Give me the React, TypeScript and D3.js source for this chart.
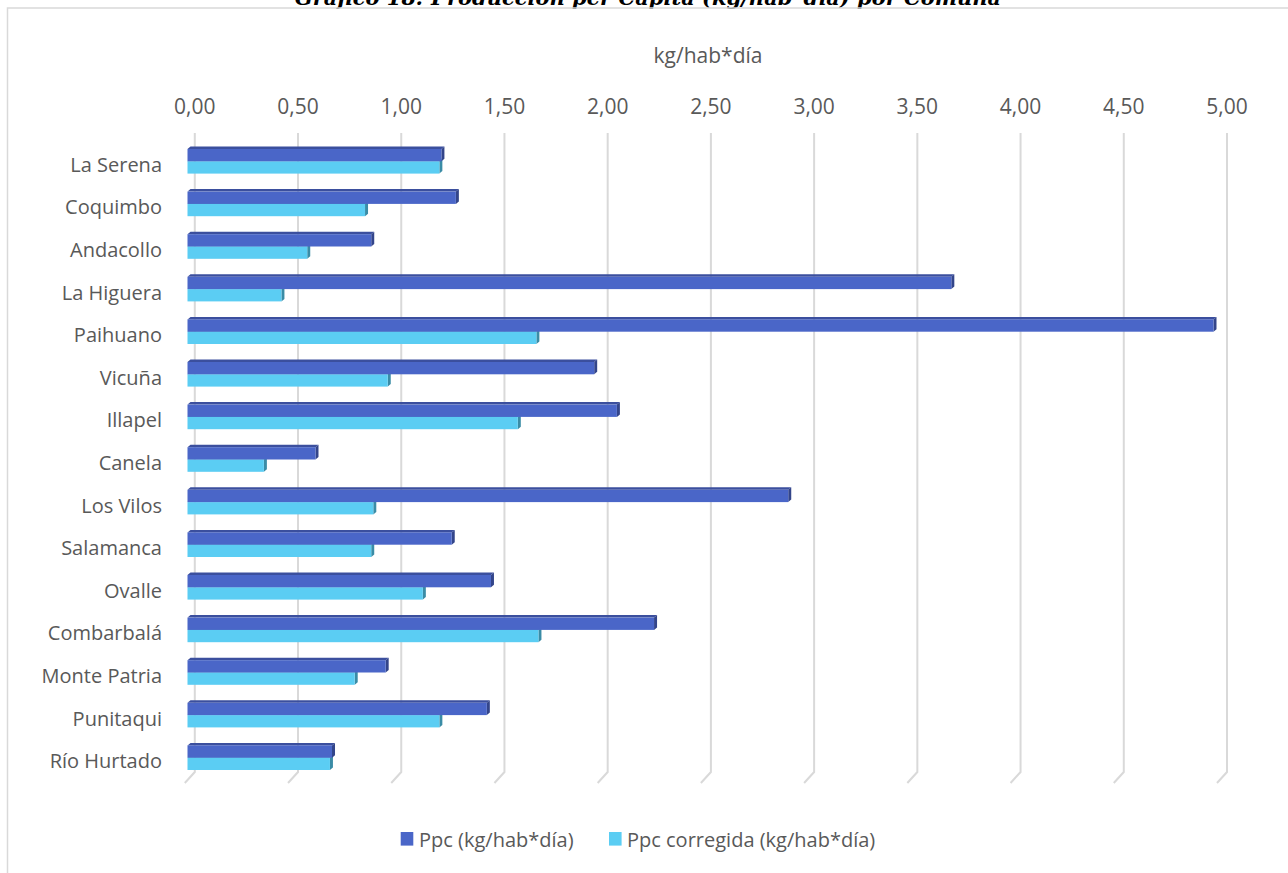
import React from "react";
import * as d3 from "d3";

const categories = [
  "La Serena", "Coquimbo", "Andacollo", "La Higuera", "Paihuano", "Vicuña", "Illapel",
  "Canela", "Los Vilos", "Salamanca", "Ovalle", "Combarbalá", "Monte Patria", "Punitaqui", "Río Hurtado",
];
const ppcValues = [1.23, 1.30, 0.89, 3.70, 4.97, 1.97, 2.08, 0.62, 2.91, 1.28, 1.47, 2.26, 0.96, 1.45, 0.70];
const ppcCorregidaValues = [1.22, 0.86, 0.58, 0.455, 1.69, 0.97, 1.60, 0.37, 0.90, 0.89, 1.14, 1.70, 0.81, 1.22, 0.69];
const tickValues = [0, 0.5, 1, 1.5, 2, 2.5, 3, 3.5, 4, 4.5, 5];
const seriesNames = ["Ppc (kg/hab*día)", "Ppc corregida (kg/hab*día)"];
const axisTitle = "kg/hab*día";
const chartTitle = "Gráfico 18: Producción per Cápita (kg/hab*día) por Comuna";

const W = 1288;
const H = 873;
const FONT = "'Open Sans', sans-serif";
const TXT = "#595959";
const GRID = "#D9D9D9";

const C1 = { front: "#4A66C8", top: "#3B4F9E", side: "#33458A" };
const C2 = { front: "#5BCDF3", top: "#48A9CA", side: "#3A8CA6" };

export default function App() {
  const xBack = d3.scaleLinear().domain([0, 5]).range([194.8, 1227]);
  const FX = -7.3;
  const FY = 7;
  const yBand = d3.scaleBand<string>().domain(categories).range([133, 772]);
  const barH = 12.3;
  const dx = 3, dy = -2.5;
  const fmt = (v: number) => d3.format(".2f")(v).replace(".", ",");

  const bar = (x0: number, x1: number, y0: number, y1: number, c: typeof C1, key: string) => (
    <g key={key}>
      <polygon points={`${x0},${y0} ${x0 + dx},${y0 + dy} ${x1 + dx},${y0 + dy} ${x1},${y0}`} fill={c.top} />
      <polygon points={`${x1},${y0} ${x1 + dx},${y0 + dy} ${x1 + dx},${y1 + dy} ${x1},${y1}`} fill={c.side} />
      <rect x={x0} y={y0} width={Math.max(0, x1 - x0)} height={y1 - y0} fill={c.front} />
    </g>
  );

  return (
    <svg width={W} height={H} style={{ position: "absolute", left: 0, top: 0, background: "#fff" }}>
      <text x={648} y={5} textAnchor="middle" fontFamily="'DejaVu Serif', serif" fontWeight="bold" fontStyle="italic" fontSize={21} fill="#000">
        {chartTitle}
      </text>
      <rect x={7.5} y={8} width={1290} height={880} fill="none" stroke={GRID} strokeWidth={1.5} />
      <text x={708} y={55} textAnchor="middle" dominantBaseline="central" fontFamily={FONT} fontSize={21} fill={TXT}>
        {axisTitle}
      </text>
      {tickValues.map((t) => {
        const x = xBack(t);
        return (
          <g key={"t" + t}>
            <polyline points={`${x},133 ${x},772 ${x - 10},783`} fill="none" stroke={GRID} strokeWidth={2} />
            <text x={x} y={106} textAnchor="middle" dominantBaseline="central" fontFamily={FONT} fontSize={21} fill={TXT}>
              {fmt(t)}
            </text>
          </g>
        );
      })}
      {categories.map((c, i) => {
        const cy = (yBand(c) as number) + yBand.bandwidth() / 2 + FY;
        const x0 = xBack(0) + FX;
        const x1a = xBack(ppcValues[i]) + FX;
        const x1b = xBack(ppcCorregidaValues[i]) + FX;
        return (
          <g key={c}>
            {bar(x0, x1b, cy, cy + barH, C2, "b")}
            {bar(x0, x1a, cy - barH, cy, C1, "a")}
            <text x={162} y={cy + 3} textAnchor="end" dominantBaseline="central" fontFamily={FONT} fontSize={20} fill={TXT}>
              {c}
            </text>
          </g>
        );
      })}
      <g>
        <rect x={400.7} y={832} width={12.6} height={13.6} fill={C1.front} />
        <text x={419} y={839} dominantBaseline="central" fontFamily={FONT} fontSize={20} fill={TXT}>
          {seriesNames[0]}
        </text>
        <rect x={609} y={832} width={12.6} height={13.6} fill={C2.front} />
        <text x={627} y={839} dominantBaseline="central" fontFamily={FONT} fontSize={20} fill={TXT}>
          {seriesNames[1]}
        </text>
      </g>
    </svg>
  );
}
